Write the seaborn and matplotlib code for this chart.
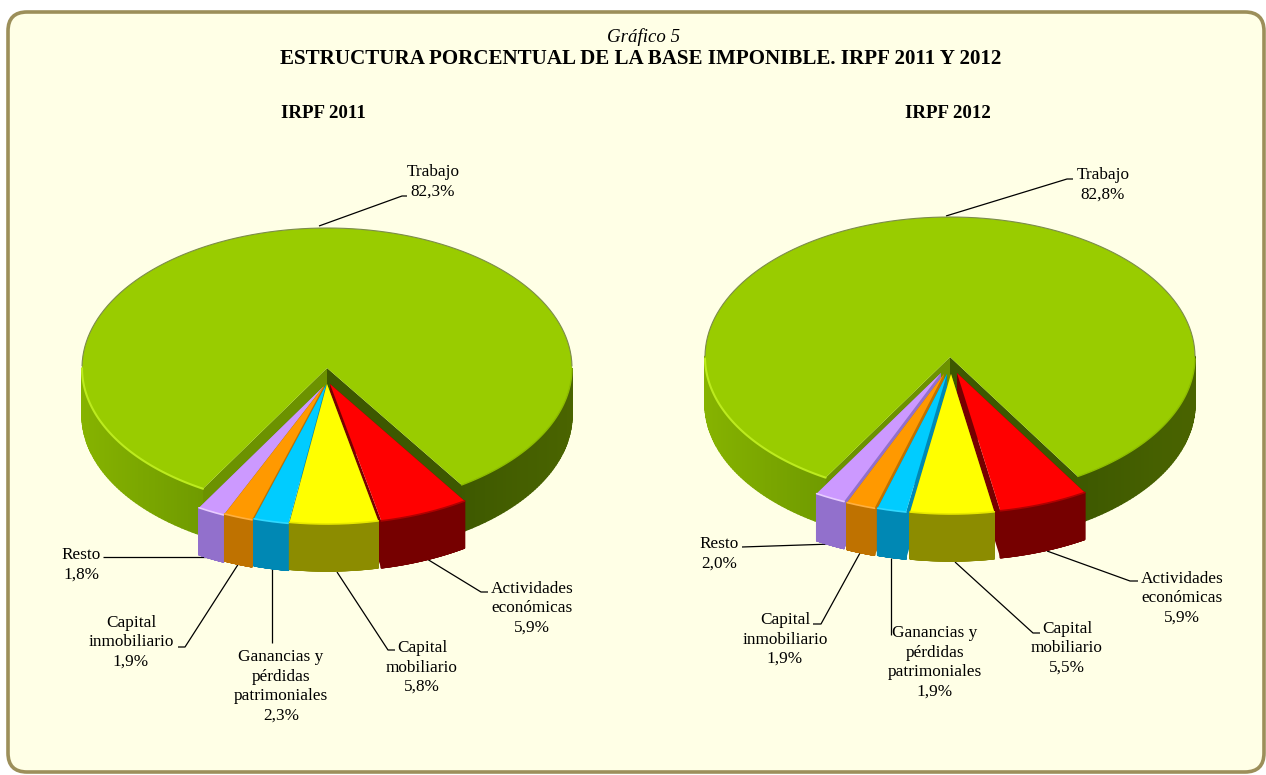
import numpy as np
import matplotlib
matplotlib.use("Agg")
import matplotlib.pyplot as plt
from matplotlib.collections import PolyCollection
from matplotlib.patches import FancyBboxPatch, Polygon
import seaborn as sns

categories = ["Trabajo", "Actividades\neconómicas", "Capital\nmobiliario",
              "Ganancias y\npérdidas\npatrimoniales", "Capital\ninmobiliario", "Resto"]
values_2011 = [82.3, 5.9, 5.8, 2.3, 1.9, 1.8]
values_2012 = [82.8, 5.9, 5.5, 1.9, 1.9, 2.0]

top_colors = sns.color_palette(["#99CC00", "#FF0000", "#FFFF00", "#00CCFF", "#FF9900", "#CC99FF"])
wall_colors = ["#6F9A00", "#760000", "#8C8C00", "#0088B4", "#BF7200", "#9270CC"]
rim_colors = ["#BCEB1E", "#B00000", "#E8E800", "#30D8FF", "#FFB040", "#E8CCFF"]

W, H = 1266, 775
RX, RY, DEPTH = 245, 140, 47

sns.set_theme(style="white")
plt.rcParams["font.family"] = ["Liberation Serif", "DejaVu Serif"]
plt.rcParams["font.size"] = 12.4
plt.rcParams["text.color"] = "black"


def side_color(c):
    # green wall goes from olive on the left to very dark on the right
    reds = np.interp(c, [-1, -0.5, 0.5, 1], [0x86, 0x6F, 0x3D, 0x4A])
    greens = np.interp(c, [-1, -0.5, 0.5, 1], [0xB3, 0x9A, 0x58, 0x64])
    return (reds / 255, greens / 255, 0.0)


def draw_walls(ax, wedge, i, z):
    cx, cy = wedge.center
    d = DEPTH / RY
    th = np.radians(np.linspace(wedge.theta1, wedge.theta2, 300))
    quads, cols = [], []
    for a, b in zip(th[:-1], th[1:]):
        if np.sin((a + b) / 2) > 0:
            continue
        x1, y1 = cx + np.cos(a), cy + np.sin(a)
        x2, y2 = cx + np.cos(b), cy + np.sin(b)
        quads.append([(x1, y1), (x2, y2), (x2, y2 - d), (x1, y1 - d)])
        cols.append(side_color(np.cos(a)) if i == 0 else wall_colors[i])
    ax.add_collection(PolyCollection(quads, facecolors=cols, edgecolors=cols, linewidths=1.0, zorder=z))

    # flat cut faces of the slice
    for t, col in [(wedge.theta1, "#3D5800" if i == 0 else wall_colors[i]),
                   (wedge.theta2, "#6C9200" if i == 0 else wall_colors[i])]:
        r = np.radians(t)
        ex, ey = cx + np.cos(r), cy + np.sin(r)
        ax.add_patch(Polygon([(cx, cy), (ex, ey), (ex, ey - d), (cx, cy - d)],
                             facecolor=col, edgecolor="none", zorder=z))

    # light line on the front edge of the top
    t = th[np.sin(th) < 0]
    if i == 0:
        left = t[t > np.pi]
        ax.plot(cx + np.cos(left), cy + np.sin(left), color=rim_colors[0], lw=1.5, zorder=z + 2)
        right = t[t < np.pi]
        ax.plot(cx + np.cos(right), cy + np.sin(right), color="#8DBD00", lw=1.0, zorder=z + 2)
        back = th[np.sin(th) >= 0]
        ax.plot(cx + np.cos(back), cy + np.sin(back), color="#7C8C4A", lw=0.8, zorder=z + 2)
    else:
        ax.plot(cx + np.cos(t), cy + np.sin(t), color=rim_colors[i], lw=1.2, zorder=z + 2)


def draw_pie(fig, apex, values, start, shifts):
    ax = fig.add_axes([(apex[0] - 1.2 * RX) / W, 1 - (apex[1] + 1.6 * RY) / H,
                       2.4 * RX / W, 2.8 * RY / H], zorder=1)
    wedges, _ = ax.pie(values, colors=top_colors, startangle=start, counterclock=False,
                       wedgeprops={"linewidth": 0})
    ax.set_aspect("auto")
    ax.set_xlim(-1.2, 1.2)
    ax.set_ylim(-1.6, 1.2)
    ax.patch.set_visible(False)

    # the small slices stick out towards the viewer, outer ones first
    order = [0, 1, 5, 4, 3, 2]
    for k, i in enumerate(order):
        w = wedges[i]
        w.set_center((shifts[i][0] / RX, -shifts[i][1] / RY))
        draw_walls(ax, w, i, 2 + 3 * k)
        w.set_zorder(3 + 3 * k)
    return ax


def draw_label(ax, text, pos, line):
    ax.text(pos[0], pos[1] + 1.5, text, ha="center", va="center", linespacing=1.28)
    xs, ys = zip(*line)
    ax.plot(xs, ys, color="black", lw=0.9, solid_capstyle="butt")


def pct(v):
    return f"{v:.1f}%".replace(".", ",")


fig = plt.figure(figsize=(W / 100, H / 100), dpi=100, facecolor="white")

bg = fig.add_axes([0, 0, 1, 1], zorder=0)
bg.set_xlim(0, W)
bg.set_ylim(H, 0)
bg.axis("off")
bg.add_patch(FancyBboxPatch((8, 12), 1256, 760, boxstyle="round,pad=0,rounding_size=19",
                            facecolor="#FFFFE6", edgecolor="#9C8F5A", linewidth=2.6))

bg.text(643.5, 37, "Gráfico 5", ha="center", va="center", style="italic", fontsize=13.6)
bg.text(640.5, 59.5, "ESTRUCTURA PORCENTUAL DE LA BASE IMPONIBLE. IRPF 2011 Y 2012",
        ha="center", va="center", weight="bold", fontsize=15.1)
bg.text(323, 114, "IRPF 2011", ha="center", va="center", weight="bold", fontsize=13.6)
bg.text(948, 114, "IRPF 2012", ha="center", va="center", weight="bold", fontsize=13.6)

draw_pie(fig, (327, 368), values_2011, 239.6,
         [(0, 0), (3, 16), (0, 16), (-1, 17), (-3, 18), (-4, 19)])
draw_pie(fig, (950, 357), values_2012, 239.5,
         [(0, 0), (7, 16), (1, 17), (-3, 17), (-6, 17), (-9, 16)])

label_pos_2011 = [(433, 180), (532, 607), (422, 666), (281, 685), (131, 641), (81, 563)]
label_pos_2012 = [(1103, 183.5), (1182, 597), (1067, 647), (935, 661), (785, 638), (719, 552)]
leaders_2011 = [[(319, 226), (402, 196), (407, 196)],
                [(427, 559), (481, 592), (488, 592)],
                [(337, 572), (388, 650), (395, 650)],
                [(272, 568), (272, 643)],
                [(239, 563), (185, 647), (178, 647)],
                [(212, 557), (103, 557)]]
leaders_2012 = [[(946, 216), (1067, 179), (1073, 179)],
                [(1047, 551), (1130, 581), (1138, 581)],
                [(955, 562), (1033, 633), (1040, 633)],
                [(891, 558), (891, 635)],
                [(860, 553), (821, 624), (813, 624)],
                [(832, 544), (742, 547)]]

for i, name in enumerate(categories):
    draw_label(bg, f"{name}\n{pct(values_2011[i])}", label_pos_2011[i], leaders_2011[i])
    draw_label(bg, f"{name}\n{pct(values_2012[i])}", label_pos_2012[i], leaders_2012[i])

fig.savefig("out.png", dpi=100, facecolor="white")
